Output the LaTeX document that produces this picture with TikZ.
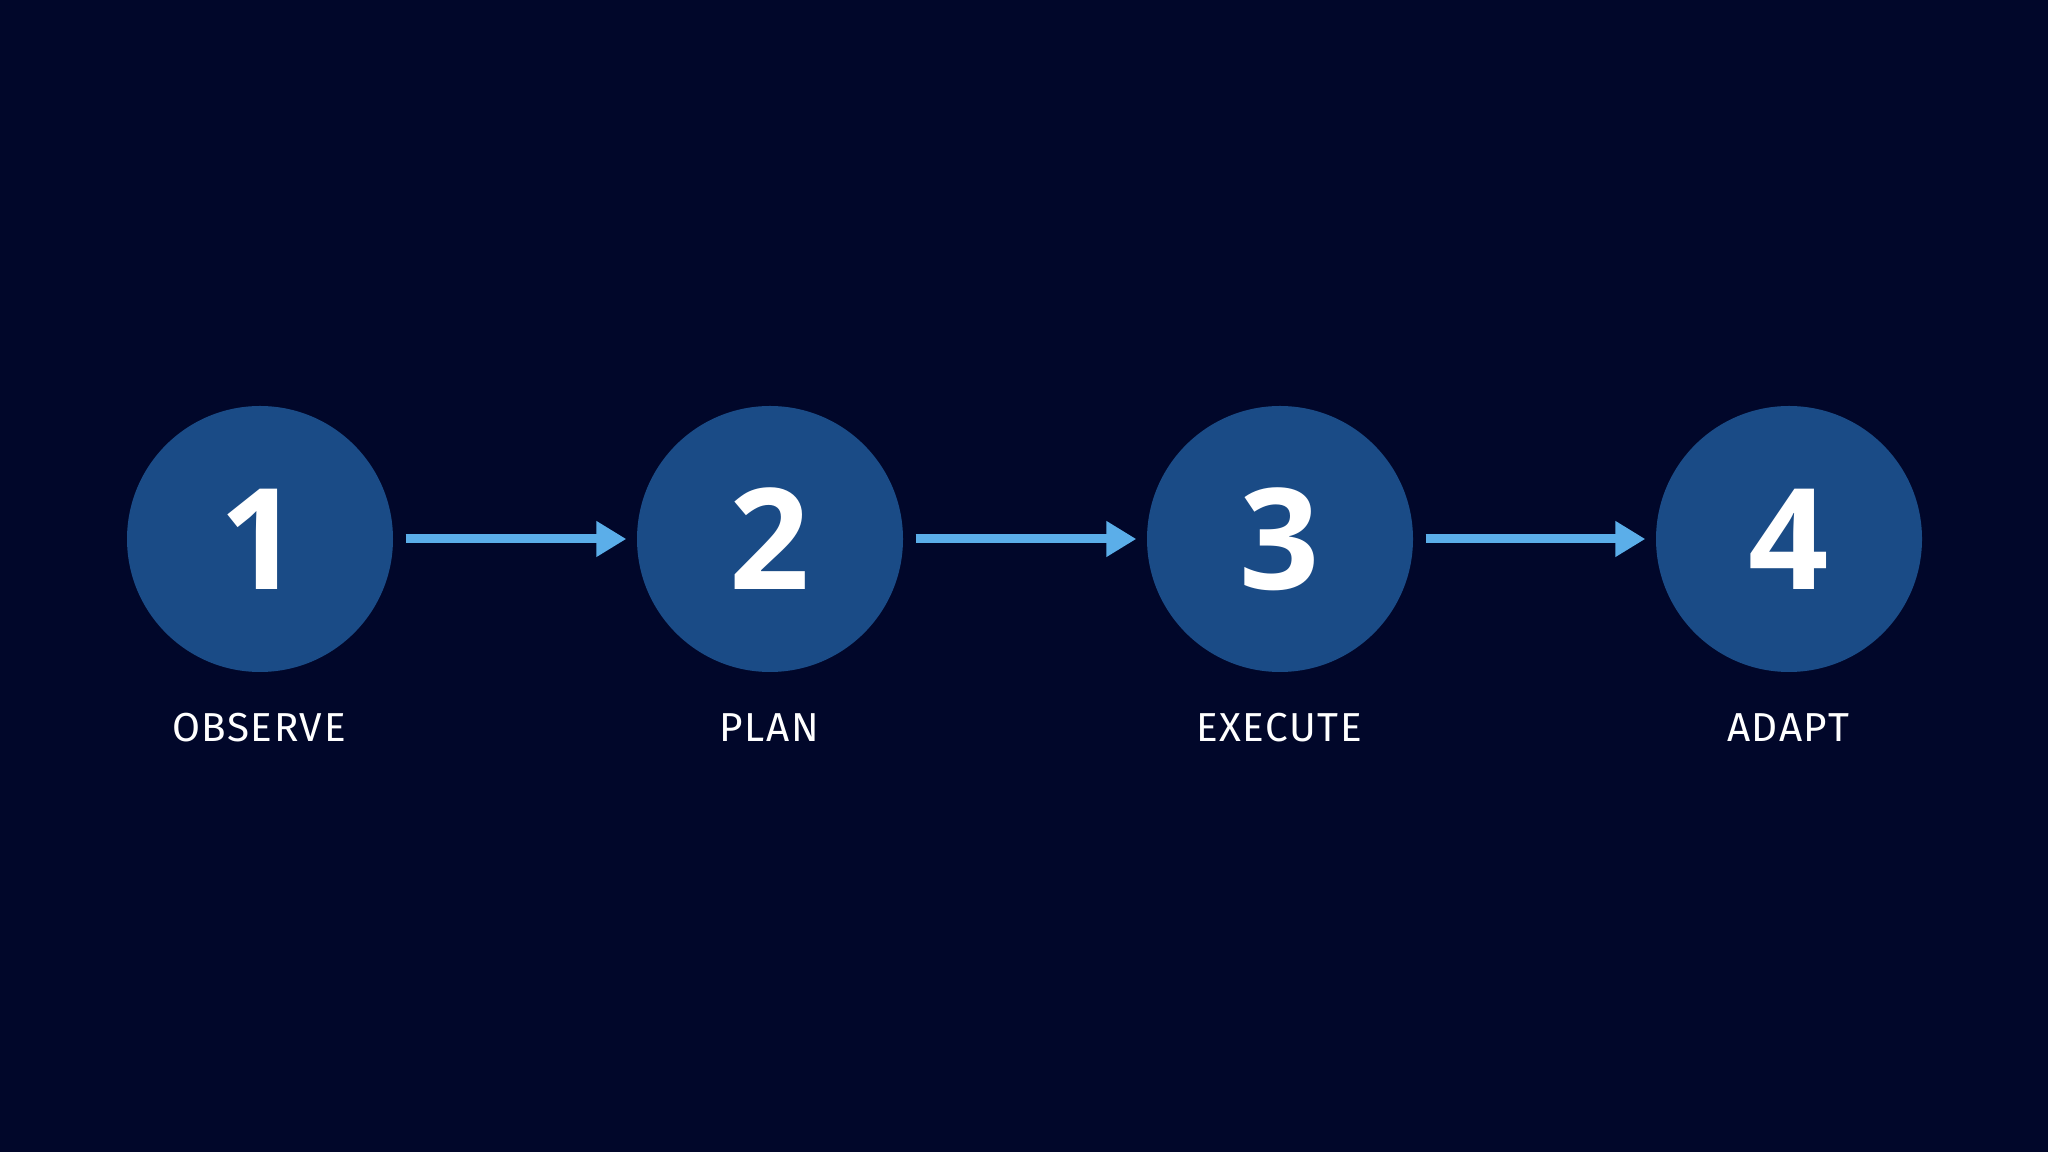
\documentclass[tikz,border=0pt]{standalone}
\usepackage{fontspec}
\setmainfont{Fira Sans}
\newfontfamily\digitfont{Open Sans}
\usetikzlibrary{arrows.meta}
\definecolor{bgnavy}{HTML}{01072A}
\definecolor{stepblue}{HTML}{1A4B86}
\definecolor{arrowblue}{HTML}{5BAEE9}
\tikzset{
  stepcircle/.style={circle, fill=stepblue, minimum size=26.6mm, inner sep=0pt,
    text=white, font=\digitfont\fontsize{40}{40}\selectfont\bfseries},
  steplabel/.style={text=white, font=\fontsize{11.5}{12}\selectfont, inner sep=0pt},
  flowarrow/.style={draw=arrowblue, line width=0.9mm,
    -{Triangle[length=3mm, width=3.4mm]}},
}
\begin{document}
\begin{tikzpicture}[x=0.1mm, y=-0.1mm]
  \fill[bgnavy] (0,0) rectangle (2048,1152);
  \useasboundingbox (0,0) rectangle (2048,1152);
  \node[stepcircle] (c1) at (260,539) {1};
  \node[stepcircle] (c2) at (770,539) {2};
  \node[stepcircle] (c3) at (1280,539) {3};
  \node[stepcircle] (c4) at (1789,539) {4};
  \node[steplabel] (l1) at (259,728) {\addfontfeatures{LetterSpace=4}OBSERVE};
  \node[steplabel] (l2) at (769,728) {\addfontfeatures{LetterSpace=4}PLAN};
  \node[steplabel] (l3) at (1279,728) {\addfontfeatures{LetterSpace=4}EXECUTE};
  \node[steplabel] (l4) at (1788,728) {\addfontfeatures{LetterSpace=4}ADAPT};
  \draw[flowarrow] ([xshift=1.2mm]c1.east) -- ([xshift=-1mm]c2.west);
  \draw[flowarrow] ([xshift=1.2mm]c2.east) -- ([xshift=-1mm]c3.west);
  \draw[flowarrow] ([xshift=1.2mm]c3.east) -- ([xshift=-1mm]c4.west);
\end{tikzpicture}
\end{document}
